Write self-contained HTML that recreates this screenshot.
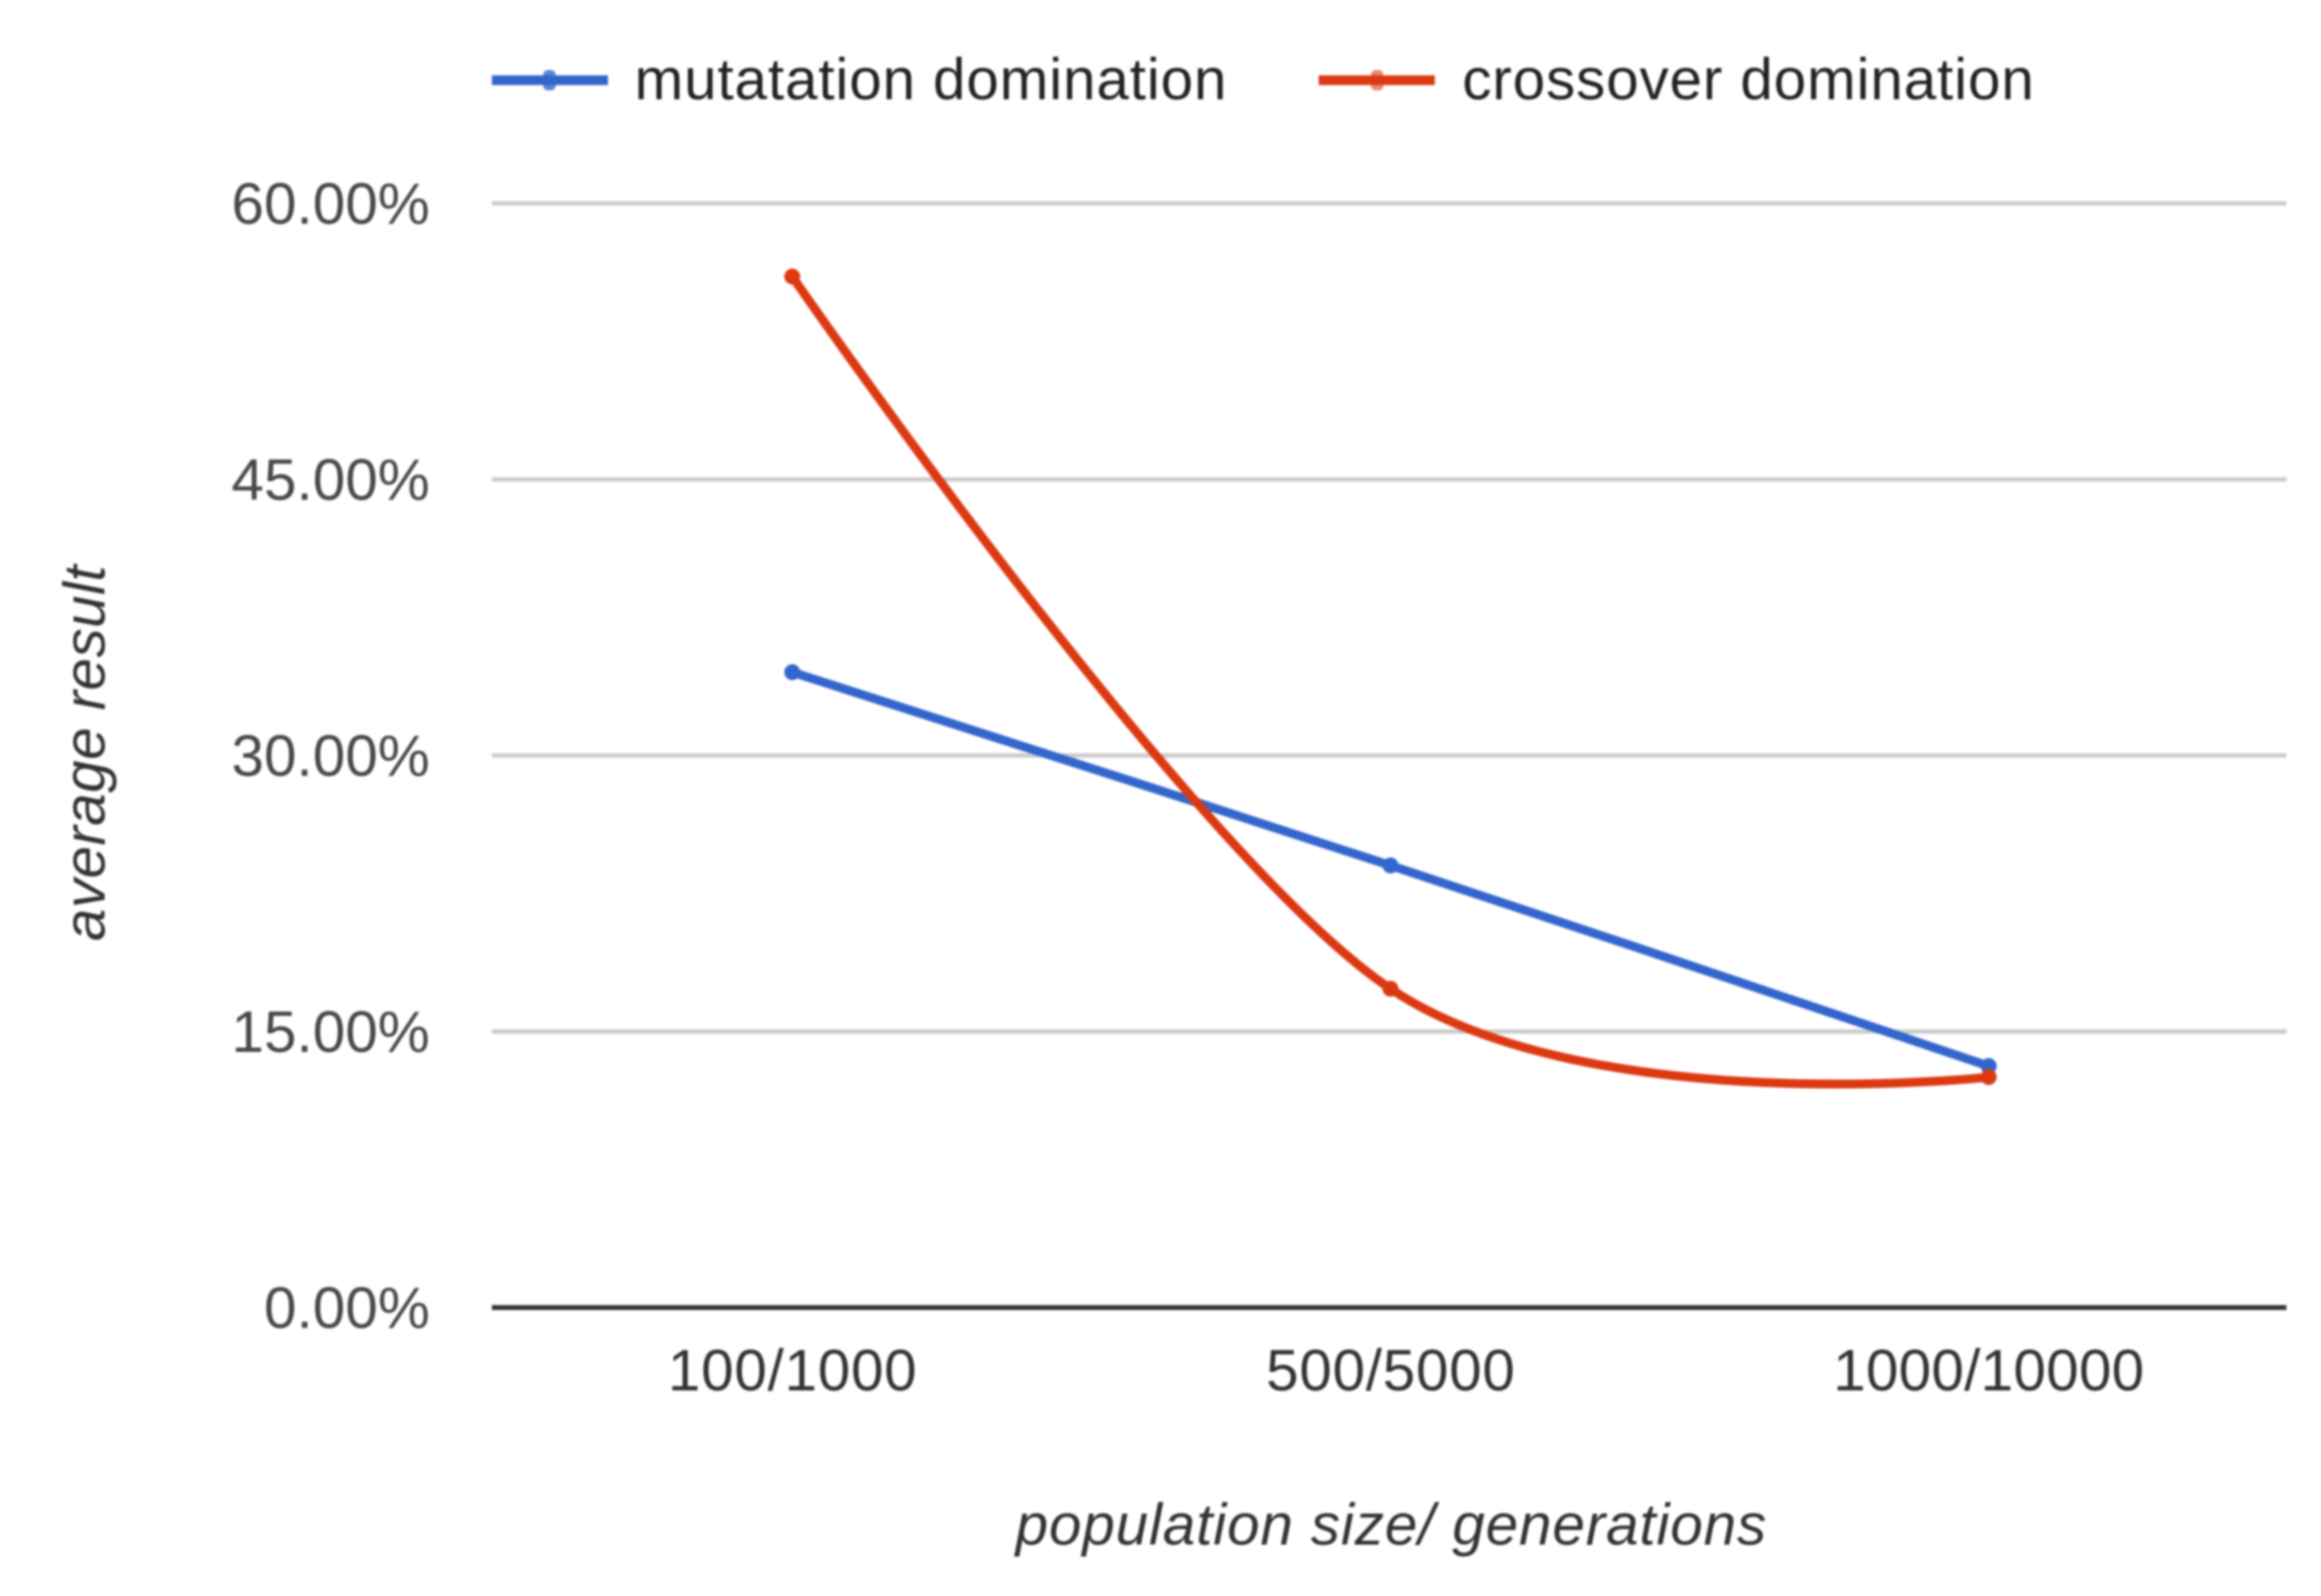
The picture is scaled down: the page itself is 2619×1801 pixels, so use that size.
<!DOCTYPE html>
<html lang="en">
<head>
<meta charset="utf-8">
<title>Average result by population size and generations</title>
<style>
html,body{margin:0;padding:0;background:#fff;width:2619px;height:1801px;overflow:hidden}
svg{display:block;filter:blur(1.3px)}
text{font-family:"Liberation Sans",Arial,sans-serif;font-size:66px}
</style>
</head>
<body>
<svg id="chart" xmlns="http://www.w3.org/2000/svg" width="2619" height="1801" viewBox="0 0 2619 1801">
  <rect x="0" y="0" width="2619" height="1801" fill="#fff"/>
  <g id="gridlines"></g>
  <g id="y-ticks"></g>
  <g id="x-ticks"></g>
  <g id="series"></g>
  <g>
    <g>
      <rect x="555" y="85" width="131" height="11" fill="#3366cc"/>
      <rect x="613" y="79" width="14" height="23" rx="5" fill="#3366cc" opacity="0.8"/>
      <text x="716" y="112" fill="#222" textLength="668" lengthAdjust="spacing">mutatation domination</text>
    </g>
    <g>
      <rect x="1488" y="85" width="131" height="11" fill="#dc3912"/>
      <rect x="1547" y="79" width="14" height="23" rx="5" fill="#dc3912" opacity="0.6"/>
      <text x="1650" y="112" fill="#222" textLength="645" lengthAdjust="spacing">crossover domination</text>
    </g>
  </g>
  <text x="1146" y="1743" fill="#333" font-style="italic" textLength="847" lengthAdjust="spacing">population size/ generations</text>
  <text transform="translate(118 1062) rotate(-90)" x="0" y="0" fill="#333" font-style="italic" textLength="424" lengthAdjust="spacing">average result</text>
</svg>
<script>
const categories = ['100/1000', '500/5000', '1000/10000'];
const mutationValues = [34.5, 24.0, 13.1];
const crossoverValues = [56.0, 17.3, 12.5];
const yTickValues = [0, 15, 30, 45, 60];
const yTickLabels = ['0.00%', '15.00%', '30.00%', '45.00%', '60.00%'];

const NS = 'http://www.w3.org/2000/svg';
const plotLeft = 555, plotRight = 2580, plotBottom = 1475, plotTop = 229;
const yMax = 60, smoothing = 0.165;
const glyphWidth = 35.1;

function xScale(i) {
  const band = (plotRight - plotLeft) / categories.length;
  return plotLeft + band * (i + 0.5) + 1.5;
}
function yScale(v) {
  return plotBottom - (v / yMax) * (plotBottom - plotTop);
}
function smoothPath(values) {
  const pts = values.map((v, i) => [xScale(i), yScale(v)]);
  let d = 'M' + pts[0][0] + ' ' + pts[0][1];
  for (let i = 0; i < pts.length - 1; i++) {
    const prev = pts[Math.max(i - 1, 0)];
    const a = pts[i];
    const b = pts[i + 1];
    const next = pts[Math.min(i + 2, pts.length - 1)];
    const c1 = i === 0 ? a : [a[0] + (b[0] - prev[0]) * smoothing, a[1] + (b[1] - prev[1]) * smoothing];
    const c2 = i === pts.length - 2 ? b : [b[0] - (next[0] - a[0]) * smoothing, b[1] - (next[1] - a[1]) * smoothing];
    d += 'C' + c1[0] + ' ' + c1[1] + ' ' + c2[0] + ' ' + c2[1] + ' ' + b[0] + ' ' + b[1];
  }
  return d;
}

const gridGroup = document.getElementById('gridlines');
const yTickGroup = document.getElementById('y-ticks');
const xTickGroup = document.getElementById('x-ticks');
const seriesGroup = document.getElementById('series');

yTickValues.forEach(function (v, i) {
  const line = document.createElementNS(NS, 'line');
  
  
  line.setAttribute('x1', plotLeft);
  line.setAttribute('x2', plotRight);
  line.setAttribute('y1', yScale(v) + 0.5);
  line.setAttribute('y2', yScale(v) + 0.5);
  line.setAttribute('stroke', v === 0 ? '#333333' : '#cccccc');
  line.setAttribute('stroke-width', v === 0 ? 5.5 : 5);
  gridGroup.appendChild(line);

  const label = document.createElementNS(NS, 'text');
  
  
  label.setAttribute('x', 485);
  label.setAttribute('y', yScale(v) + 23.5);
  label.setAttribute('text-anchor', 'end');
  label.setAttribute('fill', '#484848');
  label.textContent = yTickLabels[i];
  yTickGroup.appendChild(label);
});

categories.forEach(function (c, i) {
  const label = document.createElementNS(NS, 'text');
  
  
  label.setAttribute('x', xScale(i));
  label.setAttribute('y', 1569);
  label.setAttribute('text-anchor', 'middle');
  label.setAttribute('fill', '#333333');
  label.setAttribute('textLength', c.length * glyphWidth);
  label.setAttribute('lengthAdjust', 'spacing');
  label.textContent = c;
  xTickGroup.appendChild(label);
});

function drawSeries(values, color, name) {
  const path = document.createElementNS(NS, 'path');
  
  
  path.setAttribute('d', smoothPath(values));
  path.setAttribute('fill', 'none');
  path.setAttribute('stroke', color);
  path.setAttribute('stroke-width', 10);
  seriesGroup.appendChild(path);
  values.forEach(function (v, i) {
    const dot = document.createElementNS(NS, 'circle');
    
    
    dot.setAttribute('cx', xScale(i));
    dot.setAttribute('cy', yScale(v));
    dot.setAttribute('r', 9);
    dot.setAttribute('fill', color);
    seriesGroup.appendChild(dot);
  });
}
drawSeries(mutationValues, '#3366cc', 'mutation-series');
drawSeries(crossoverValues, '#dc3912', 'crossover-series');
</script>
</body>
</html>
